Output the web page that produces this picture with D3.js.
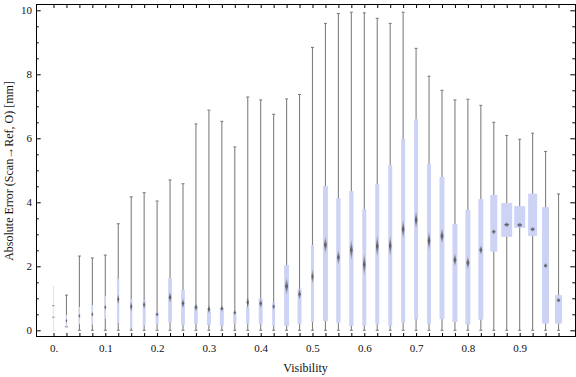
<!DOCTYPE html>
<html><head><meta charset="utf-8">
<script src="https://cdn.jsdelivr.net/npm/d3@7"></script>
<style>
body{margin:0;background:#fff}
svg{display:block}
text{font-family:"Liberation Serif","Times New Roman",serif;fill:#111}
</style>
</head><body><svg id="chart" width="576" height="377"></svg>
<script>
// ---------------- data ----------------
const visibility = [0,0.025,0.05,0.075,0.1,0.125,0.15,0.175,0.2,0.225,0.25,0.275,0.3,0.325,0.35,0.375,0.4,0.425,0.45,0.475,
                    0.5,0.525,0.55,0.575,0.6,0.625,0.65,0.675,0.7,0.725,0.75,0.775,0.8,0.825,0.85,0.875,0.9,0.925,0.95,0.975];
const whiskerLow  = [0,0.11,0,0,0,0,0,0,0,0,0,0,0,0,0,0,0,0,0,0,
                     0,0,0,0,0,0,0,0,0,0,0,0,0,0,0,0,0,0,0,0];
const quartile1   = [0.41,0.11,0.2,0.17,0.36,0.23,0.08,0.14,0.19,0.25,0.17,0.21,0.17,0.14,0.21,0.21,0.19,0.14,0.14,0.19,
                     0.26,0.29,0.23,0.14,0.14,0.18,0.14,0.23,0.35,0.2,0.35,0.26,0.18,0.33,2.46,2.92,3.2,2.95,0.21,0.21];
const meanValue   = [0.6,0.3,0.45,0.5,0.72,0.97,0.74,0.8,0.5,1.03,0.84,0.72,0.66,0.68,0.55,0.87,0.84,0.74,1.38,1.13,
                     1.68,2.67,2.28,2.51,2.06,2.63,2.64,3.16,3.45,2.8,2.95,2.2,2.11,2.51,3.08,3.3,3.29,3.16,2.02,0.94];
const meanCI      = [0.05,0.08,0.1,0.1,0.12,0.2,0.2,0.15,0.1,0.2,0.18,0.15,0.15,0.12,0.1,0.2,0.17,0.12,0.3,0.2,
                     0.26,0.29,0.26,0.36,0.39,0.39,0.36,0.34,0.31,0.34,0.28,0.23,0.23,0.17,0.1,0.06,0.06,0.08,0.1,0.08];
const quartile3   = [0.77,0.48,0.73,0.79,1.07,1.61,0.98,0.94,0.58,1.63,1.26,0.76,0.6,0.7,0.58,0.73,1.0,0.86,2.04,1.29,
                     2.67,4.51,4.13,4.35,3.79,4.57,5.17,5.98,6.6,5.2,4.79,3.32,3.76,4.1,4.23,3.98,3.88,4.27,3.85,1.1];
const whiskerHigh = [1.38,1.1,2.32,2.26,2.35,3.33,4.17,4.3,4.04,4.7,4.58,6.45,6.88,6.53,5.73,7.29,7.2,6.75,7.23,7.37,
                     8.84,9.59,9.9,9.94,9.92,9.75,9.59,9.94,8.81,7.94,7.5,7.2,7.22,7.03,6.5,6.09,5.97,6.16,5.59,4.26];
const sampleShare = [0,0.09,0.12,0.12,0.12,0.18,0.21,0.27,0.27,0.34,0.34,0.34,0.36,0.36,0.3,0.3,0.36,0.27,0.45,0.36,
                     0.27,0.45,0.39,0.39,0.36,0.36,0.36,0.36,0.36,0.36,0.45,0.45,0.45,0.45,0.64,1,1,0.82,0.64,0.64];
const xTickValues = [0,0.1,0.2,0.3,0.4,0.5,0.6,0.7,0.8,0.9];
const xTickLabels = ["0.","0.1","0.2","0.3","0.4","0.5","0.6","0.7","0.8","0.9"];
const yTickValues = [0,2,4,6,8,10];
const yTickLabels = ["0","2","4","6","8","10"];
const yMinorTicks = [0,0.5,1,1.5,2,2.5,3,3.5,4,4.5,5,5.5,6,6.5,7,7.5,8,8.5,9,9.5,10];

// ---------------- drawing ----------------
const svg = d3.select("#chart");
const L=36, R=575, T=4, B=336;
const x = d3.scaleLinear().domain([-0.0338,1.0068]).range([L,R]);
const y = d3.scaleLinear().domain([-0.178,10.197]).range([B,T]);
const wScale = d3.scaleLinear().domain([0,1]).range([0,11]);

const defs = svg.append("defs");
const g = defs.append("linearGradient").attr("id","dg").attr("x1",0).attr("y1",0).attr("x2",0).attr("y2",1);
g.append("stop").attr("offset","0%").attr("stop-color","#555").attr("stop-opacity",0);
g.append("stop").attr("offset","50%").attr("stop-color","#555").attr("stop-opacity",0.95);
g.append("stop").attr("offset","100%").attr("stop-color","#555").attr("stop-opacity",0);

const data = visibility.map((v,i)=>({v,lo:whiskerLow[i],q1:quartile1[i],m:meanValue[i],ci:meanCI[i],q3:quartile3[i],hi:whiskerHigh[i],w:wScale(sampleShare[i])}));

const marks = svg.append("g");
data.forEach(d=>{
  const cx = x(d.v);
  const gg = marks.append("g");
  const empty = d.w === 0;
  gg.append("line").attr("x1",cx).attr("x2",cx).attr("y1",y(d.lo)).attr("y2",y(d.hi))
    .attr("stroke", empty ? "#e4e4e4" : "#808080").attr("stroke-width",1.1);
  [d.lo,d.hi].forEach(val=>{
    gg.append("line").attr("x1",cx-1.5).attr("x2",cx+1.5).attr("y1",y(val)).attr("y2",y(val))
      .attr("stroke", empty ? "#eeeeee" : "#808080").attr("stroke-width",1.1);
  });
  if (empty) {
    [d.q1,d.q3].forEach(val=>{
      gg.append("line").attr("x1",cx-1.5).attr("x2",cx+1.2).attr("y1",y(val)).attr("y2",y(val))
        .attr("stroke","#999").attr("stroke-width",1);
    });
    return;
  }
  gg.append("rect").attr("x",cx-d.w/2).attr("width",d.w).attr("y",y(d.q3)).attr("height",y(d.q1)-y(d.q3))
    .attr("fill","#cdd3f5");
  const dw = 1.2 + 0.35*d.w;
  const hh = Math.max(3, y(0)-y(d.ci));
  const my = y(d.m);
  gg.append("path").attr("d",`M${cx},${my-hh}L${cx+dw/2},${my}L${cx},${my+hh}L${cx-dw/2},${my}Z`)
    .attr("fill","url(#dg)");
});

// axes
const axB = svg.append("g").attr("transform",`translate(0,${B})`)
  .call(d3.axisBottom(x).tickValues(visibility).tickSize(-3).tickPadding(8)
    .tickFormat(v=>{const k=xTickValues.findIndex(t=>Math.abs(t-v)<1e-6);return k>=0?xTickLabels[k]:"";}));
const axT = svg.append("g").attr("transform",`translate(0,${T})`)
  .call(d3.axisTop(x).tickValues(visibility).tickSize(-4).tickFormat(""));
const axL = svg.append("g").attr("transform",`translate(${L},0)`)
  .call(d3.axisLeft(y).tickValues(yMinorTicks).tickSize(-2.7).tickPadding(4)
    .tickFormat(v=>{const k=yTickValues.indexOf(v);return k>=0?yTickLabels[k]:"";}));
axL.selectAll(".tick line").attr("x2",v=>yTickValues.includes(v)?4.7:2.7);
const axR = svg.append("g").attr("transform",`translate(${R},0)`)
  .call(d3.axisRight(y).tickValues(yMinorTicks).tickSize(-2.7).tickFormat(""));
axR.selectAll(".tick line").attr("x2",v=>yTickValues.includes(v)?-4.7:-2.7);
[axB,axT,axL,axR].forEach(a=>{
  a.select(".domain").remove();
  a.selectAll(".tick line").attr("stroke","#000").attr("stroke-width",1);
  a.selectAll("text").attr("font-size",11).attr("font-family","'Liberation Serif',serif").attr("fill","#111");
});
svg.append("rect").attr("x",L).attr("y",T).attr("width",R-L).attr("height",B-T)
  .attr("fill","none").attr("stroke","#000").attr("stroke-width",1).attr("shape-rendering","crispEdges");

svg.append("text").attr("x",(L+R)/2).attr("y",368).attr("text-anchor","middle").attr("dominant-baseline","central")
  .attr("font-size",12).text("Visibility");
svg.append("text").attr("transform","translate(9,171) rotate(-90)").attr("text-anchor","middle").attr("dominant-baseline","central")
  .attr("font-size",12).text("Absolute Error (Scan\u2192Ref, O) [mm]");
</script>
</body></html>
